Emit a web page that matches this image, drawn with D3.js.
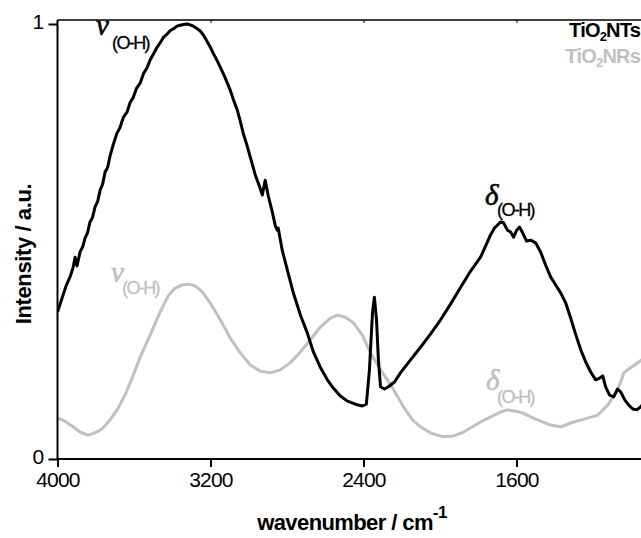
<!DOCTYPE html>
<html lang="en">
<head>
<meta charset="UTF-8" />
<title>FTIR spectra TiO2</title>
<script src="https://d3js.org/d3.v7.min.js"></script>
<style>
  body { margin: 0; background: #fff; }
  svg { display: block; font-family: "Liberation Sans", Arial, sans-serif; }
  .tick text { font-size: 21px; letter-spacing: -0.8px; fill: #000; }
  .sub { font-size: 18px; letter-spacing: -1.6px; stroke-width: 0.3; }
  .greek { font-family: "Liberation Serif", "Times New Roman", serif; font-style: italic; font-size: 29px; stroke-width: 0.6; }
</style>
</head>
<body>
<svg width="641" height="538"></svg>
<script>
// TiO2 nanotubes (black)
const ntWave = [4000, 3976, 3955, 3935, 3919, 3908, 3898, 3882, 3868, 3856, 3843, 3830, 3817, 3804, 3790, 3777,
  3764, 3751, 3738, 3725, 3709, 3690, 3673, 3655, 3636, 3620, 3605, 3587, 3568, 3550, 3531, 3515, 3500, 3480, 3463,
  3445, 3427, 3410, 3390, 3375, 3359, 3340, 3322, 3306, 3290, 3272, 3254, 3235, 3217, 3200, 3186, 3168, 3149, 3123,
  3097, 3080, 3060, 3045, 3029, 3010, 2992, 2978, 2966, 2945, 2929, 2914, 2898, 2877, 2861, 2851, 2846, 2825, 2798,
  2767, 2730, 2694, 2662, 2626, 2589, 2558, 2521, 2484, 2443, 2406, 2385, 2369, 2353, 2343, 2332, 2322, 2311, 2290,
  2270, 2238, 2207, 2154, 2102, 2050, 1997, 1945, 1892, 1840, 1788, 1757, 1736, 1715, 1699, 1683, 1668, 1647, 1631,
  1615, 1599, 1584, 1568, 1547, 1526, 1500, 1474, 1448, 1421, 1395, 1369, 1343, 1317, 1291, 1264, 1238, 1212, 1186,
  1165, 1149, 1134, 1113, 1092, 1071, 1055, 1034, 1013, 992, 971, 950, 924];
const ntInt = [0.338, 0.370, 0.398, 0.418, 0.439, 0.464, 0.444, 0.476, 0.488, 0.508, 0.520, 0.545, 0.555, 0.579, 0.592, 0.618,
  0.632, 0.660, 0.670, 0.697, 0.722, 0.748, 0.762, 0.786, 0.798, 0.820, 0.830, 0.852, 0.864, 0.886, 0.900, 0.918, 0.930, 0.946, 0.957,
  0.970, 0.977, 0.985, 0.990, 0.995, 0.997, 0.999, 1.000, 0.998, 0.995, 0.990, 0.984, 0.973, 0.959, 0.946, 0.933, 0.918, 0.901, 0.876,
  0.848, 0.826, 0.802, 0.778, 0.749, 0.722, 0.694, 0.672, 0.653, 0.628, 0.607, 0.641, 0.605, 0.568, 0.536, 0.526, 0.531, 0.480, 0.434,
  0.382, 0.331, 0.290, 0.246, 0.211, 0.182, 0.163, 0.145, 0.133, 0.126, 0.122, 0.126, 0.205, 0.336, 0.372, 0.320, 0.228, 0.166, 0.161,
  0.166, 0.177, 0.198, 0.228, 0.257, 0.287, 0.320, 0.356, 0.395, 0.432, 0.464, 0.494, 0.515, 0.531, 0.538, 0.545, 0.543, 0.526, 0.522,
  0.510, 0.526, 0.533, 0.520, 0.501, 0.503, 0.497, 0.476, 0.446, 0.418, 0.400, 0.382, 0.359, 0.324, 0.287, 0.251, 0.223, 0.200, 0.182,
  0.186, 0.191, 0.166, 0.147, 0.143, 0.161, 0.154, 0.136, 0.124, 0.115, 0.113, 0.120, 0.136];

// TiO2 nanorods (grey)
const nrWave = [4000, 3961, 3924, 3882, 3840, 3804, 3767, 3725, 3683, 3647, 3610, 3568, 3516, 3463, 3421, 3385, 3348,
  3317, 3280, 3243, 3202, 3149, 3097, 3044, 2992, 2940, 2887, 2835, 2783, 2730, 2678, 2626, 2573, 2537, 2495, 2453,
  2406, 2364, 2311, 2275, 2233, 2191, 2144, 2102, 2050, 1982, 1929, 1877, 1830, 1788, 1736, 1683, 1647, 1604, 1568,
  1526, 1474, 1421, 1369, 1301, 1228, 1175, 1123, 1081, 1055, 1039, 1013, 982, 945, 919];
const nrInt = [0.094, 0.087, 0.076, 0.062, 0.055, 0.060, 0.069, 0.090, 0.117, 0.147, 0.186, 0.234, 0.285, 0.338, 0.375, 0.393, 0.400,
  0.402, 0.398, 0.384, 0.359, 0.320, 0.278, 0.244, 0.216, 0.202, 0.198, 0.205, 0.221, 0.246, 0.274, 0.303, 0.324, 0.331, 0.326, 0.313,
  0.285, 0.244, 0.205, 0.182, 0.152, 0.120, 0.090, 0.074, 0.060, 0.051, 0.053, 0.062, 0.074, 0.085, 0.097, 0.108, 0.113, 0.110, 0.106,
  0.097, 0.087, 0.078, 0.074, 0.085, 0.094, 0.101, 0.124, 0.152, 0.177, 0.198, 0.207, 0.216, 0.228, 0.239];

const xTicks = [4000, 3200, 2400, 1600];
const yTicks = [0, 1];
const black = "#000";
const grey = "#c0c0c0";

const svg = d3.select("svg");
const plotLeft = 57.5, plotBottom = 459, plotTop = 20;

const x = d3.scaleLinear().domain([4000, 800]).range([plotLeft, plotLeft + 3200 * 0.19125]);
const y = d3.scaleLinear().domain([0, 1]).range([plotBottom, 24]);

svg.append("clipPath").attr("id", "plot")
  .append("rect").attr("x", plotLeft).attr("y", plotTop).attr("width", 641 - plotLeft).attr("height", plotBottom - plotTop);

const line = d3.line().x(d => x(d[0])).y(d => y(d[1]));

svg.append("path")
  .datum(nrWave.map((w, i) => [w, nrInt[i]]))
  .attr("clip-path", "url(#plot)")
  .attr("d", line).attr("fill", "none")
  .attr("stroke", grey).attr("stroke-width", 3).attr("stroke-linejoin", "round");

svg.append("path")
  .datum(ntWave.map((w, i) => [w, ntInt[i]]))
  .attr("clip-path", "url(#plot)")
  .attr("d", line).attr("fill", "none")
  .attr("stroke", black).attr("stroke-width", 3).attr("stroke-linejoin", "round");

// axes
const xAxis = svg.append("g").attr("transform", `translate(0,${plotBottom})`)
  .call(d3.axisBottom(x).tickValues(xTicks).tickSize(8).tickSizeOuter(0).tickPadding(5).tickFormat(d3.format("d")));
xAxis.select(".domain").remove();
xAxis.selectAll(".tick line").attr("stroke-width", 2);

const yAxis = svg.append("g").attr("transform", `translate(${plotLeft},0)`)
  .call(d3.axisLeft(y).tickValues(yTicks).tickSize(9).tickSizeOuter(0).tickPadding(5).tickFormat(d3.format("d")));
yAxis.select(".domain").remove();
yAxis.selectAll(".tick line").attr("stroke-width", 2);
yAxis.selectAll(".tick text").attr("dy", "0.2em");

const topAxis = svg.append("g").attr("transform", `translate(0,${plotTop})`)
  .call(d3.axisTop(x).tickValues(xTicks.slice(1)).tickSize(-3).tickFormat(""));
topAxis.select(".domain").remove();

svg.append("line").attr("x1", plotLeft).attr("x2", 641).attr("y1", plotBottom).attr("y2", plotBottom)
  .attr("stroke", black).attr("stroke-width", 2);
svg.append("line").attr("x1", plotLeft).attr("x2", 641).attr("y1", plotTop).attr("y2", plotTop)
  .attr("stroke", black).attr("stroke-width", 1.5);
svg.append("line").attr("x1", plotLeft).attr("x2", plotLeft).attr("y1", plotTop).attr("y2", plotBottom + 1)
  .attr("stroke", black).attr("stroke-width", 2);

// axis titles
const xt = svg.append("text").attr("x", 352).attr("y", 530).attr("text-anchor", "middle")
  .attr("font-size", 22).attr("font-weight", "bold").attr("letter-spacing", -0.6);
xt.append("tspan").text("wavenumber / cm");
xt.append("tspan").attr("dy", -12).attr("font-size", 17).text("-1");

svg.append("text").attr("transform", "translate(31,254) rotate(-90)").attr("text-anchor", "middle")
  .attr("font-size", 22).attr("font-weight", "bold").attr("letter-spacing", -0.4)
  .text("Intensity / a.u.");

// legend
function legendItem(yPos, name, colour) {
  const t = svg.append("text").attr("x", 640).attr("y", yPos).attr("text-anchor", "end")
    .attr("font-size", 20).attr("font-weight", "bold").attr("fill", colour).attr("letter-spacing", -0.8);
  t.append("tspan").text("TiO");
  t.append("tspan").attr("dy", 4).attr("font-size", 13).text("2");
  t.append("tspan").attr("dy", -4).text(name);
}
legendItem(37, "NTs", black);
legendItem(63, "NRs", grey);

// band labels
function bandLabel(gx, gy, sx, sy, symbol, colour) {
  svg.append("text").attr("class", "greek").attr("x", gx).attr("y", gy)
    .attr("fill", colour).attr("stroke", colour).text(symbol);
  svg.append("text").attr("class", "sub").attr("x", sx).attr("y", sy)
    .attr("fill", colour).attr("stroke", colour).text("(O-H)");
}
bandLabel(96, 35, 112, 49, "ν", black);
bandLabel(111, 282, 122, 294, "ν", grey);
bandLabel(485, 205, 497, 216, "δ", black);
bandLabel(486, 390, 497, 403, "δ", grey);
</script>
</body>
</html>
